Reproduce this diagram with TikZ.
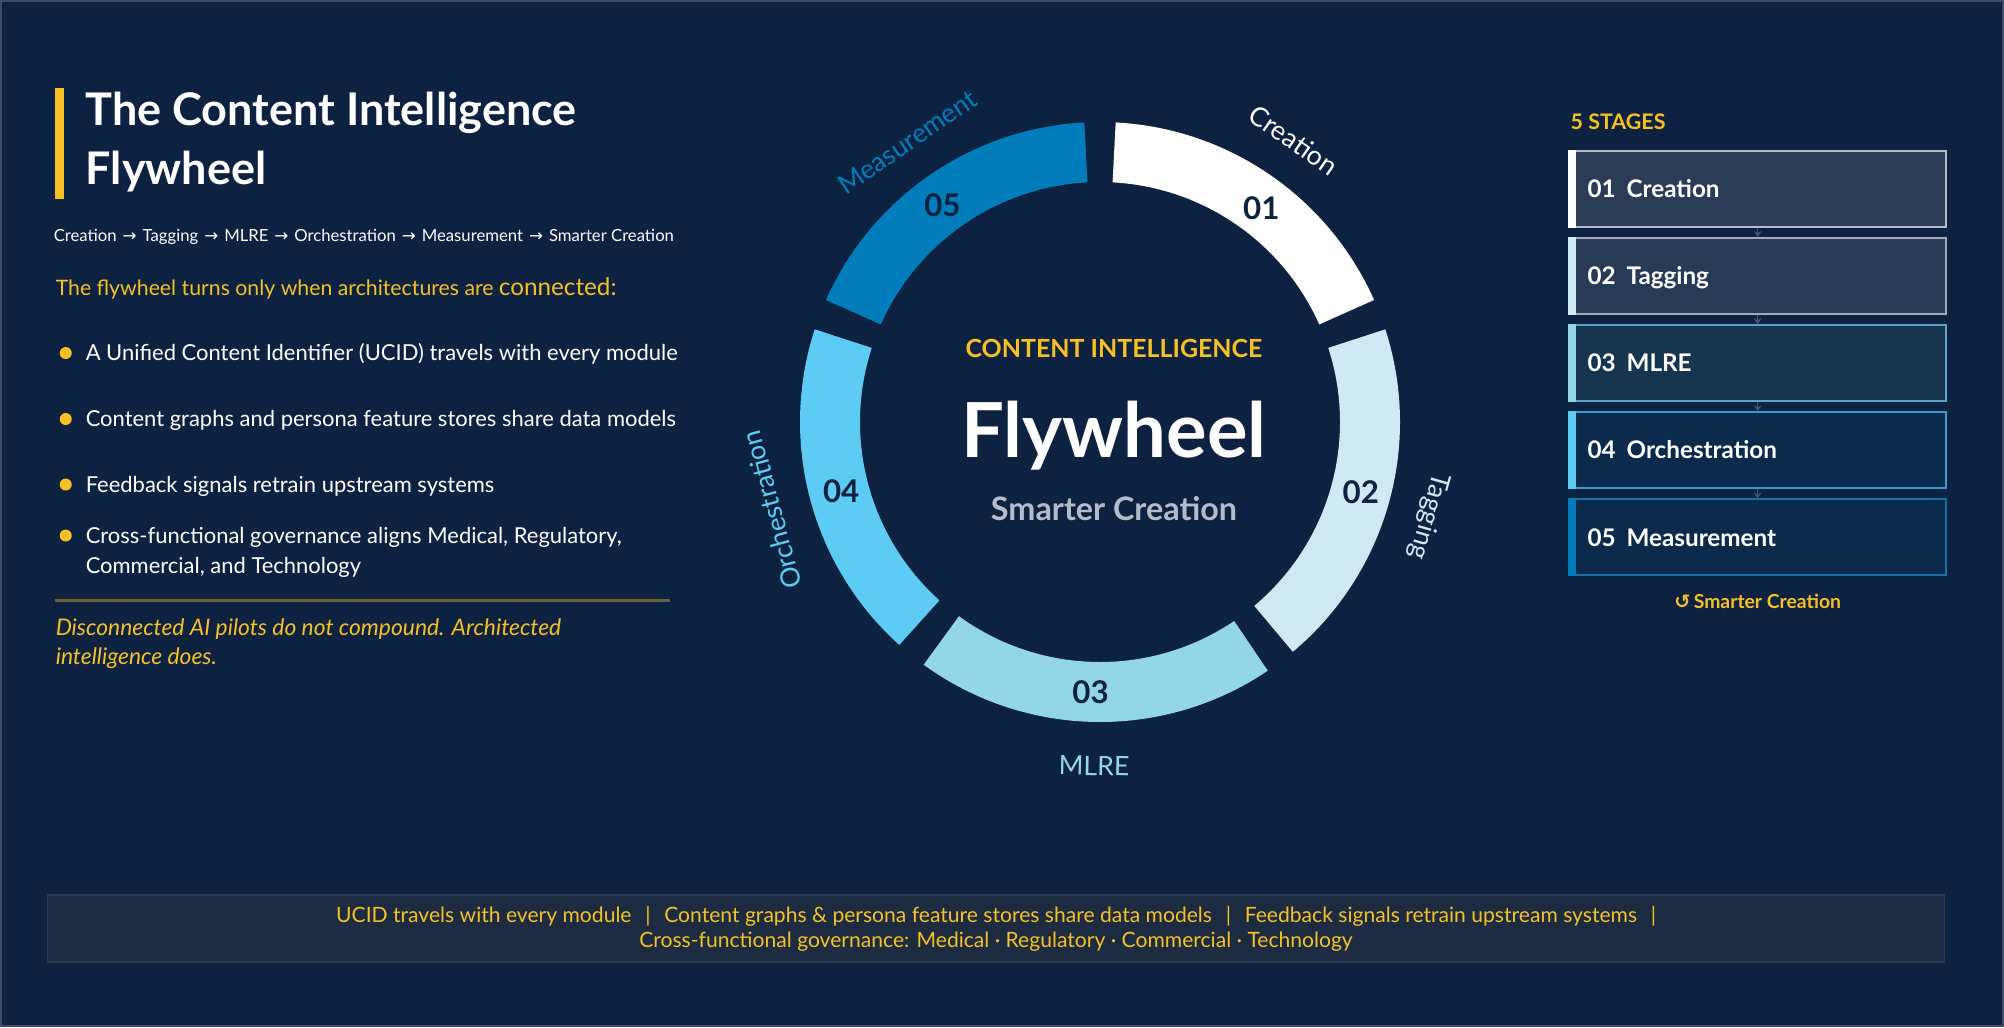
\documentclass[tikz,border=0pt]{standalone}
\usepackage{fontspec}
\setmainfont{Lato}
\newfontfamily\symfont{DejaVu Sans}
\usepackage{tikz}
\usetikzlibrary{positioning,calc,arrows.meta}
\usepackage{xcolor}
\definecolor{navy}{RGB}{13,33,64}
\definecolor{frame}{RGB}{60,76,104}
\definecolor{accent}{RGB}{247,192,36}
\definecolor{mist}{RGB}{180,188,202}
\definecolor{seg1}{RGB}{255,255,255}
\definecolor{seg2}{RGB}{205,234,245}
\definecolor{seg3}{RGB}{147,214,232}
\definecolor{seg4}{RGB}{94,203,245}
\definecolor{seg5}{RGB}{2,125,187}
\definecolor{box1}{RGB}{43,61,86}
\definecolor{box2}{RGB}{39,59,87}
\definecolor{box3}{RGB}{23,53,79}
\definecolor{box4}{RGB}{11,42,76}
\definecolor{box5}{RGB}{11,42,76}
\definecolor{rim1}{RGB}{180,188,198}
\definecolor{rim2}{RGB}{160,170,184}
\definecolor{rim3}{RGB}{95,163,196}
\definecolor{rim4}{RGB}{61,154,208}
\definecolor{rim5}{RGB}{26,111,166}
\definecolor{linkgray}{RGB}{60,85,114}
\definecolor{bandfill}{RGB}{28,43,64}
\definecolor{bandline}{RGB}{42,57,78}
\newcommand{\flowto}{\hspace{0.36em}{\symfont →}\hspace{0.36em}}

\begin{document}
\begin{tikzpicture}[
    node distance=0.094cm,
    every node/.style={inner sep=0pt},
    heading/.style={font=\fontsize{12.8}{16.7}\selectfont\bfseries, text=white, align=left, anchor=base west},
    body/.style={font=\fontsize{6.25}{8.5}\selectfont, text=white, align=left, anchor=base west},
    dot/.style={circle, fill=accent, minimum size=0.12cm},
    num/.style={font=\fontsize{8.9}{10}\selectfont\bfseries, text=navy},
    ringlabel/.style={font=\fontsize{7.6}{8}\selectfont},
    stagebox/.style={rectangle, draw, line width=0.5pt, minimum width=3.767cm, minimum height=0.76cm},
    stagetext/.style={font=\fontsize{6.9}{8}\selectfont\bfseries, text=white, text height=1.75mm, text depth=0pt},
    link/.style={draw=linkgray, -{Stealth[length=0.6mm, width=0.8mm]}}
]
    % Canvas
    \fill[navy] (0,0) rectangle (20.04,10.27);
    \draw[frame, line width=0.6pt] (0.01,0.01) rectangle (20.03,10.26);
    \useasboundingbox (0,0) rectangle (20.04,10.27);

    % Title block
    \fill[accent] (0.55,8.28) rectangle (0.64,9.39);
    \node[heading] (title) at (0.85,8.424) {The Content Intelligence\\Flywheel};
    \node[body, font=\fontsize{4.75}{6}\selectfont] (flow) at (0.53,7.86) {Creation\flowto Tagging\flowto MLRE\flowto Orchestration\flowto Measurement\flowto Smarter Creation};
    \node[body, font=\fontsize{6.05}{7}\selectfont, text=accent] (intro) at (0.55,7.32) {The flywheel turns only when architectures are {\fontsize{6.9}{7}\selectfont connected:}};

    % Bullets
    \node[dot] (d1) at (0.657,6.74) {};
    \node[body] (p1) at (0.85,6.665) {A Unified Content Identifier (UCID) travels with every module};
    \node[dot] (d2) at (0.657,6.08) {};
    \node[body] (p2) at (0.85,6.005) {Content graphs and persona feature stores share data models};
    \node[dot] (d3) at (0.657,5.425) {};
    \node[body] (p3) at (0.85,5.35) {Feedback signals retrain upstream systems};
    \node[dot] (d4) at (0.657,4.915) {};
    \node[body] (p4) at (0.85,4.54) {Cross-functional governance aligns Medical, Regulatory,\\Commercial, and Technology};

    \draw[accent!40!navy, line width=0.6pt] (0.55,4.265) -- (6.70,4.265);
    \node[body, font=\fontsize{6.5}{8.25}\selectfont\itshape, text=accent] (moral) at (0.55,3.63) {Disconnected AI pilots do not compound. Architected\\intelligence does.};

    % Wheel
    \coordinate (hub) at (11.00,6.05);
    \fill[seg1] ([shift={(87:3)}]hub) arc[start angle=87, end angle=24, radius=3] -- ([shift={(24:2.4)}]hub) arc[start angle=24, end angle=87, radius=2.4] -- cycle;
    \fill[seg2] ([shift={(18:3)}]hub) arc[start angle=18, end angle=-50, radius=3] -- ([shift={(-50:2.4)}]hub) arc[start angle=-50, end angle=18, radius=2.4] -- cycle;
    \fill[seg3] ([shift={(-56:3)}]hub) arc[start angle=-56, end angle=-126, radius=3] -- ([shift={(-126:2.4)}]hub) arc[start angle=-126, end angle=-56, radius=2.4] -- cycle;
    \fill[seg4] ([shift={(-132:3)}]hub) arc[start angle=-132, end angle=-198, radius=3] -- ([shift={(-198:2.4)}]hub) arc[start angle=-198, end angle=-132, radius=2.4] -- cycle;
    \fill[seg5] ([shift={(156:3)}]hub) arc[start angle=156, end angle=93, radius=3] -- ([shift={(93:2.4)}]hub) arc[start angle=93, end angle=156, radius=2.4] -- cycle;

    % Stage numbers
    \node[num] (n1) at ([shift={(53:2.68)}]hub) {01};
    \node[num] (n2) at ([shift={(-15:2.7)}]hub) {02};
    \node[num] (n3) at ([shift={(-92:2.7)}]hub) {03};
    \node[num] (n4) at ([shift={(-165:2.68)}]hub) {04};
    \node[num] (n5) at ([shift={(126:2.68)}]hub) {05};

    % Stage names round the rim
    \node[ringlabel, text=seg1, rotate=-34.5] (l1) at ([shift={(55.5:3.42)}]hub) {Creation};
    \node[ringlabel, text=seg2, rotate=-106] (l2) at ([shift={(-16:3.42)}]hub) {Tagging};
    \node[ringlabel, text=seg3, rotate=-1] (l3) at ([shift={(-91:3.44)}]hub) {MLRE};
    \node[ringlabel, text=seg4, rotate=105] (l4) at ([shift={(195:3.40)}]hub) {Orchestration};
    \node[ringlabel, text=seg5, rotate=34.5] (l5) at ([shift={(124.5:3.40)}]hub) {Measurement};

    % Centre
    \node[font=\fontsize{7.1}{8}\selectfont\bfseries, text=accent, anchor=base] (kicker) at (11.14,6.70) {CONTENT INTELLIGENCE};
    \node[font=\fontsize{21.6}{22}\selectfont\bfseries, text=white, anchor=base] (core) at (11.14,5.70) {Flywheel};
    \node[font=\fontsize{9.2}{10}\selectfont\bfseries, text=mist, anchor=base] (coresub) at (11.14,5.066) {Smarter Creation};

    % Stages panel
    \node[font=\fontsize{6.1}{8}\selectfont\bfseries, text=accent, anchor=base west] (stageshead) at (15.70,8.977) {5 STAGES};
    \node[stagebox, fill=box1, draw=rim1] (s1) at (17.577,8.383) {};
    \node[stagebox, fill=box2, draw=rim2, below=of s1] (s2) {};
    \node[stagebox, fill=box3, draw=rim3, below=of s2] (s3) {};
    \node[stagebox, fill=box4, draw=rim4, below=of s3] (s4) {};
    \node[stagebox, fill=box5, draw=rim5, below=of s4] (s5) {};
    \fill[seg1] (s1.north west) rectangle ([xshift=0.08cm]s1.south west);
    \fill[seg2] (s2.north west) rectangle ([xshift=0.08cm]s2.south west);
    \fill[seg3] (s3.north west) rectangle ([xshift=0.08cm]s3.south west);
    \fill[seg4] (s4.north west) rectangle ([xshift=0.08cm]s4.south west);
    \fill[seg5] (s5.north west) rectangle ([xshift=0.08cm]s5.south west);
    \node[stagetext, right=0.184cm of s1.west] (t1) {01\hspace{0.45em}Creation};
    \node[stagetext, right=0.184cm of s2.west] (t2) {02\hspace{0.45em}Tagging};
    \node[stagetext, right=0.184cm of s3.west] (t3) {03\hspace{0.45em}MLRE};
    \node[stagetext, right=0.184cm of s4.west] (t4) {04\hspace{0.45em}Orchestration};
    \node[stagetext, right=0.184cm of s5.west] (t5) {05\hspace{0.45em}Measurement};
    \draw[link] (s1) -- (s2);
    \draw[link] (s2) -- (s3);
    \draw[link] (s3) -- (s4);
    \draw[link] (s4) -- (s5);
    \node[font=\fontsize{5.5}{7}\selectfont\bfseries, text=accent, below=0.17cm of s5] (loopback) {{\symfont ↺}\,Smarter Creation};

    % Footer band
    \node[rectangle, fill=bandfill, draw=bandline, minimum width=18.97cm, minimum height=0.67cm] (band) at (9.96,0.985) {};
    \node[font=\fontsize{6}{7.1}\selectfont, text=accent, align=center] (bandtext) at (band.center) {UCID travels with every module\hspace{0.65em}|\hspace{0.65em}Content graphs \& persona feature stores share data models\hspace{0.65em}|\hspace{0.65em}Feedback signals retrain upstream systems\hspace{0.65em}|\\Cross-functional governance: Medical · Regulatory · Commercial · Technology};
\end{tikzpicture}
\end{document}
